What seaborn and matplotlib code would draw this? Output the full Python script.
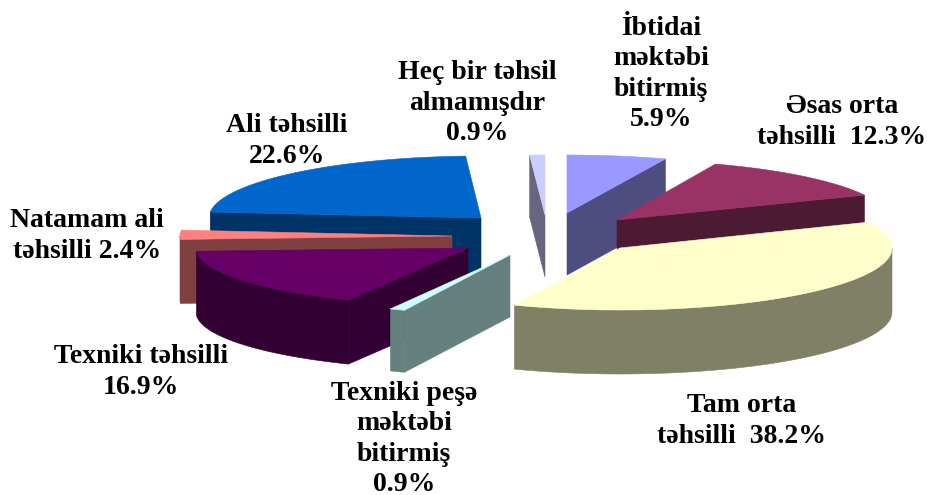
import numpy as np
import matplotlib
matplotlib.use("Agg")
import matplotlib.pyplot as plt
import seaborn as sns

# data
categories = ["İbtidai\nməktəbi\nbitirmiş", "Əsas orta\ntəhsilli ", "Tam orta\ntəhsilli ",
              "Texniki peşə\nməktəbi\nbitirmiş", "Texniki təhsilli", "Natamam ali\ntəhsilli",
              "Ali təhsilli", "Heç bir təhsil\nalmamışdır"]
values = [5.9, 12.3, 38.2, 0.9, 16.9, 2.4, 22.6, 0.9]
separators = ["\n", " ", " ", "\n", "\n", " ", "\n", "\n"]

# style and layout (not data)
top_colors = ["#9999FF", "#993366", "#FFFFCC", "#CCFFFF", "#660066", "#FF8080", "#0066CC", "#CCCCFF"]
apex_x = [567, 617, 620, 510, 468, 452, 481, 545]
apex_y = [213, 220, 248, 255, 248, 236, 218, 215]
slice_ry = [58, 60, 62, 60, 58, 62, 62, 60]
slice_depth = [62, 62, 64, 62, 64, 64, 62, 62]
label_x = [661, 842, 742, 404, 141, 87, 287, 477]
label_y = [74, 122, 421, 439, 372, 236, 141, 103]
draw_order = [7, 0, 1, 6, 5, 4, 3, 2]
RX = 272

sns.set_theme(style="white")
plt.rcParams["font.family"] = ["Liberation Serif", "DejaVu Serif"]
palette = sns.color_palette(top_colors)
side_colors = [tuple(c * 0.5 for c in col) for col in palette]

fig, ax = plt.subplots(figsize=(9.28, 4.95), dpi=100)
fig.subplots_adjust(0, 0, 1, 1)
ax.set_xlim(0, 928)
ax.set_ylim(495, 0)
ax.axis("off")

edges = np.concatenate([[0], np.cumsum(values)]) / np.sum(values) * 2 * np.pi


def rim(cx, cy, ry, a, b, n=80):
    t = np.linspace(a, b, n)
    return cx + RX * np.sin(t), cy - ry * np.cos(t)


def fill(xs, ys, color):
    ax.fill(xs, ys, color=color, lw=0.4, ec=color)


for i in draw_order:
    a, b = edges[i], edges[i + 1]
    cx, cy, ry, d = apex_x[i], apex_y[i], slice_ry[i], slice_depth[i]
    side = side_colors[i]
    # radial faces visible from the viewer
    for ang, visible in ((a, np.sin(a) < -1e-6), (b, np.sin(b) > 1e-6)):
        if visible:
            ex, ey = rim(cx, cy, ry, ang, ang, 1)
            fill([cx, ex[0], ex[0], cx], [cy, ey[0], ey[0] + d, cy + d], side)
    # outer curved face
    lo, hi = max(a, np.pi / 2), min(b, 3 * np.pi / 2)
    if hi > lo:
        rx, ry_ = rim(cx, cy, ry, lo, hi)
        fill(np.r_[rx, rx[::-1]], np.r_[ry_, ry_[::-1] + d], side)
    # top face
    tx, ty = rim(cx, cy, ry, a, b)
    fill(np.r_[cx, tx], np.r_[cy, ty], palette[i])

for name, v, sep, x, y in zip(categories, values, separators, label_x, label_y):
    ax.text(x, y, f"{name}{sep}{v}%", ha="center", va="center", ma="center",
            fontsize=20, fontweight="bold", color="black", linespacing=1.27)

fig.savefig("out.png", dpi=100)
